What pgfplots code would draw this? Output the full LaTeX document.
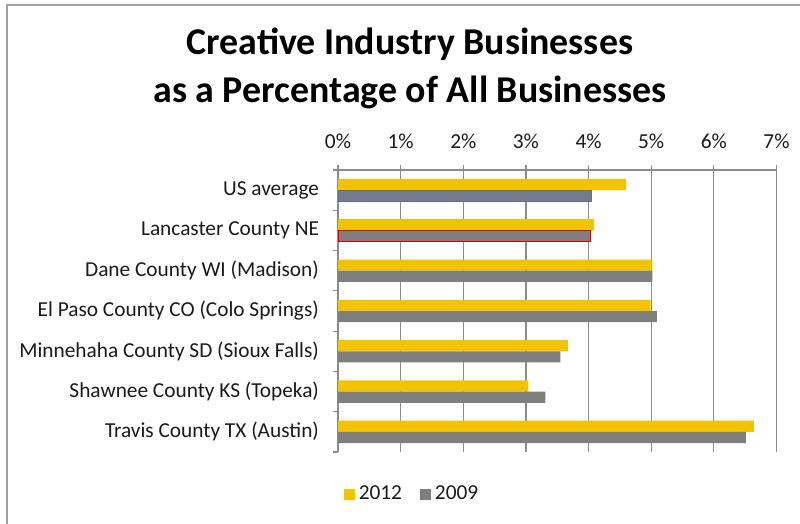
\documentclass[border=0pt]{standalone}
\usepackage{pgfplots}
\pgfplotsset{compat=1.18}
\usepackage{fontspec}
\setmainfont{Carlito}
\definecolor{cyel}{HTML}{F2C300}
\definecolor{cgray}{HTML}{7F7F7F}
\definecolor{cslate}{HTML}{747C8C}
\definecolor{cslateedge}{HTML}{5E6E8E}
\definecolor{cgrid}{HTML}{8C8C8C}
\definecolor{cframe}{HTML}{A0A0A0}
\definecolor{ctext}{HTML}{1A1A1A}
\begin{document}
\begin{tikzpicture}
\path[use as bounding box] (0bp,0bp) rectangle (400bp,-262bp);
\draw[cframe, line width=0.9bp] (3.5bp,-262bp) -- (3.5bp,-2.5bp) -- (400bp,-2.5bp);
\node[font=\bfseries\fontsize{19}{24.5}\selectfont, align=center, text=black] at (205bp,-34.2bp) {Creative Industry Businesses\\as a Percentage of All Businesses};
\begin{axis}[
  at={(169bp,-226bp)}, anchor=south west,
  scale only axis, width=219.25bp, height=141bp,
  xmin=0, xmax=7, ymin=-0.5, ymax=6.5, y dir=reverse,
  axis x line=top, axis y line=left,
  axis line style={cgrid, line width=0.6bp, -},
  xtick={0,1,2,3,4,5,6,7},
  xticklabels={0\%,1\%,2\%,3\%,4\%,5\%,6\%,7\%},
  ytick={0,1,2,3,4,5,6},
  yticklabels={US average, Lancaster County NE, Dane County WI (Madison), El Paso County CO (Colo Springs), Minnehaha County SD (Sioux Falls), Shawnee County KS (Topeka), Travis County TX (Austin)},
  minor ytick={-0.5,0.5,1.5,2.5,3.5,4.5,5.5,6.5},
  tick align=outside,
  major tick length=2.5bp, minor tick length=2.5bp,
  x tick style={cgrid, line width=0.6bp},
  y tick style={draw=none},
  minor y tick style={draw=cgrid, line width=0.6bp},
  xmajorgrids, grid style={cgrid, line width=0.6bp},
  tick label style={font=\fontsize{10.7}{12}\selectfont, text=ctext},
  xticklabel style={yshift=4.5bp},
  yticklabel style={xshift=-3.5bp},
  xbar, bar width=5.6bp,
  legend style={draw=none, fill=none, at={(0.171,-0.149)}, anchor=center, legend columns=2,
    font=\fontsize{10.7}{12}\selectfont, text=ctext,
    /tikz/every even column/.append style={column sep=7bp}},
  legend image code/.code={\fill[#1] (0bp,-2.75bp) rectangle (5.5bp,2.75bp);},
]
\addplot[fill=cyel, draw=none, bar shift=2.8bp] coordinates {(4.60,0) (4.09,1) (5.02,2) (4.99,3) (3.67,4) (3.04,5) (6.64,6)};
\addlegendentry{2012}
\addplot[fill=cgray, draw=none, bar shift=-2.8bp] coordinates {(5.02,2) (5.09,3) (3.55,4) (3.31,5) (6.51,6)};
\addlegendentry{2009}
\addplot[fill=cslate, draw=cslateedge, line width=0.5bp, bar shift=-2.8bp, forget plot] coordinates {(4.05,0)};
\addplot[fill=cgray, draw=red!85!black, line width=0.7bp, bar shift=-2.8bp, forget plot] coordinates {(4.03,1)};
\end{axis}
\end{tikzpicture}
\end{document}
